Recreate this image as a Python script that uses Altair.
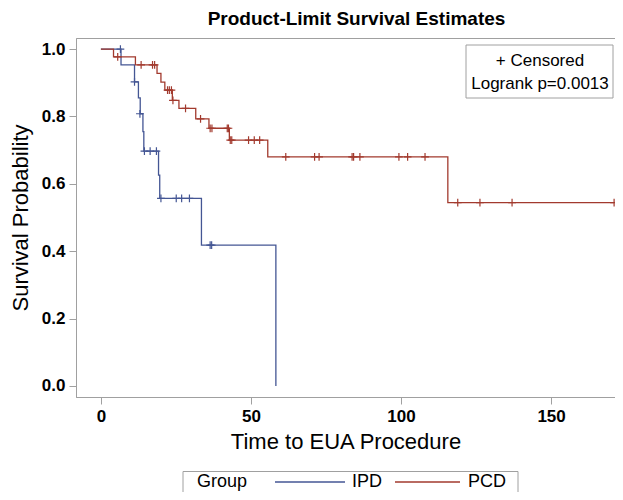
import altair as alt
import pandas as pd

# ---- data ----
ipd_time = [0, 6.7, 11.2, 12.5, 13.1, 14.0, 14.3, 19.2, 19.6, 33.5, 58.3]
ipd_surv = [1.0, 0.953, 0.903, 0.855, 0.808, 0.755, 0.697, 0.626, 0.557, 0.418, 0.0]
pcd_time = [0, 4.2, 11.5, 18.7, 20.0, 21.3, 23.8, 26.0, 31.6, 36.0, 42.8, 55.6, 115.6, 171.0]
pcd_surv = [1.0, 0.977, 0.953, 0.928, 0.902, 0.878, 0.848, 0.824, 0.793, 0.765, 0.730, 0.680, 0.544, 0.544]

ipd_cens_time = [6.5, 11.2, 13.0, 14.5, 16.4, 18.5, 20.0, 25.1, 26.9, 29.5, 36.4, 36.9]
ipd_cens_surv = [1.0, 0.903, 0.808, 0.697, 0.697, 0.697, 0.557, 0.557, 0.557, 0.557, 0.418, 0.418]
pcd_cens_time = [5.6, 13.4, 17.2, 17.9, 22.2, 22.8, 23.5, 24.0, 28.2, 33.2, 36.4, 37.0, 42.1, 42.5,
                 43.1, 43.6, 49.2, 51.1, 52.9, 61.6, 71.2, 72.7, 83.7, 84.2, 86.3, 99.3, 102.2,
                 108.0, 118.9, 126.3, 137.0, 171.0]
pcd_cens_surv = [0.977, 0.953, 0.953, 0.953, 0.878, 0.878, 0.878, 0.848, 0.824, 0.793, 0.765, 0.765,
                 0.765, 0.765, 0.730, 0.730, 0.730, 0.730, 0.730, 0.680, 0.680, 0.680, 0.680, 0.680,
                 0.680, 0.680, 0.680, 0.680, 0.544, 0.544, 0.544, 0.544]

groups = ["IPD", "PCD"]
colors = ["#445694", "#A23A2E"]
x_ticks = [0, 50, 100, 150]
y_ticks = [0.0, 0.2, 0.4, 0.6, 0.8, 1.0]
inset_lines = ["+ Censored", "Logrank p=0.0013"]
legend_title = "Group"

steps = pd.DataFrame(
    {"Group": ["IPD"] * len(ipd_time) + ["PCD"] * len(pcd_time),
     "time": ipd_time + pcd_time,
     "surv": ipd_surv + pcd_surv,
     "order": list(range(len(ipd_time))) + list(range(len(pcd_time)))}
)
cens = pd.DataFrame(
    {"Group": ["IPD"] * len(ipd_cens_time) + ["PCD"] * len(pcd_cens_time),
     "time": ipd_cens_time + pcd_cens_time,
     "surv": ipd_cens_surv + pcd_cens_surv}
)

FONT = "Liberation Sans"
GRAY = "#a0a0a0"
W, H = 539, 359

xscale = alt.Scale(domain=[-8.3, 171.3], nice=False, zero=False)
yscale = alt.Scale(domain=[-0.033, 1.033], nice=False, zero=False)
cscale = alt.Scale(domain=groups, range=colors)

xaxis = alt.Axis(values=x_ticks, title="Time to EUA Procedure", grid=False, format="d",
                 labelFontSize=17, labelFontWeight="bold", titleFontSize=22,
                 titleFontWeight="normal", tickSize=7, labelPadding=4, titlePadding=7)
yaxis = alt.Axis(values=y_ticks, title="Survival Probability", grid=False, format=".1f",
                 labelFontSize=17, labelFontWeight="bold", titleFontSize=22,
                 titleFontWeight="normal", tickSize=7, labelPadding=4, titlePadding=9)

lines = alt.Chart(steps).mark_line(interpolate="step-after", strokeWidth=1.3).encode(
    x=alt.X("time:Q", scale=xscale, axis=xaxis),
    y=alt.Y("surv:Q", scale=yscale, axis=yaxis),
    order="order:Q",
    color=alt.Color("Group:N", scale=cscale, legend=None),
)

marks = alt.Chart(cens).mark_point(
    shape="M0,-1L0,1M-1,0L1,0", size=60, filled=False, strokeWidth=1.2, opacity=1
).encode(
    x=alt.X("time:Q", scale=xscale),
    y=alt.Y("surv:Q", scale=yscale),
    stroke=alt.Stroke("Group:N", scale=cscale, legend=None),
)

one = pd.DataFrame({"a": [0]})

# inset box
box = alt.Chart(one).mark_rect(fill="white", stroke=GRAY, strokeWidth=1).encode(
    x=alt.value(390), x2=alt.value(537), y=alt.value(7), y2=alt.value(60))
inset1 = alt.Chart(one).mark_text(fontSize=17, font=FONT, color="black", align="center",
                                  baseline="middle").encode(
    x=alt.value(464), y=alt.value(23), text=alt.value(inset_lines[0]))
inset2 = alt.Chart(one).mark_text(fontSize=17, font=FONT, color="black", align="center",
                                  baseline="middle").encode(
    x=alt.value(464), y=alt.value(46), text=alt.value(inset_lines[1]))

# legend (drawn below the plot)
LY = 444
lbox = alt.Chart(one).mark_rect(fill="white", stroke=GRAY, strokeWidth=1).encode(
    x=alt.value(107), x2=alt.value(442), y=alt.value(LY - 10.5), y2=alt.value(LY + 10.5))
ltitle = alt.Chart(one).mark_text(fontSize=18, font=FONT, color="black", align="left",
                                  baseline="middle").encode(
    x=alt.value(121), y=alt.value(LY), text=alt.value(legend_title))
lline1 = alt.Chart(one).mark_rule(color=colors[0], strokeWidth=1.5).encode(
    x=alt.value(199), x2=alt.value(269), y=alt.value(LY))
llab1 = alt.Chart(one).mark_text(fontSize=18, font=FONT, color="black", align="left",
                                 baseline="middle").encode(
    x=alt.value(276), y=alt.value(LY), text=alt.value(groups[0]))
lline2 = alt.Chart(one).mark_rule(color=colors[1], strokeWidth=1.5).encode(
    x=alt.value(319), x2=alt.value(384), y=alt.value(LY))
llab2 = alt.Chart(one).mark_text(fontSize=18, font=FONT, color="black", align="left",
                                 baseline="middle").encode(
    x=alt.value(392), y=alt.value(LY), text=alt.value(groups[1]))

chart = alt.layer(lines, marks, box, inset1, inset2,
                  lbox, ltitle, lline1, llab1, lline2, llab2).properties(
    width=W, height=H,
    title=alt.TitleParams("Product-Limit Survival Estimates", fontSize=19, fontWeight="bold",
                          font=FONT, color="black", offset=9, dx=11),
    autosize=alt.AutoSizeParams(type="none"),
    padding={"left": 68, "top": 30, "right": 0, "bottom": 95},
).configure_view(stroke=GRAY, strokeWidth=1).configure_axis(
    domainColor=GRAY, tickColor=GRAY, labelColor="black", titleColor="black",
    labelFont=FONT, titleFont=FONT
)

chart.save("out.html", embed_options={"renderer": "svg", "actions": False})
